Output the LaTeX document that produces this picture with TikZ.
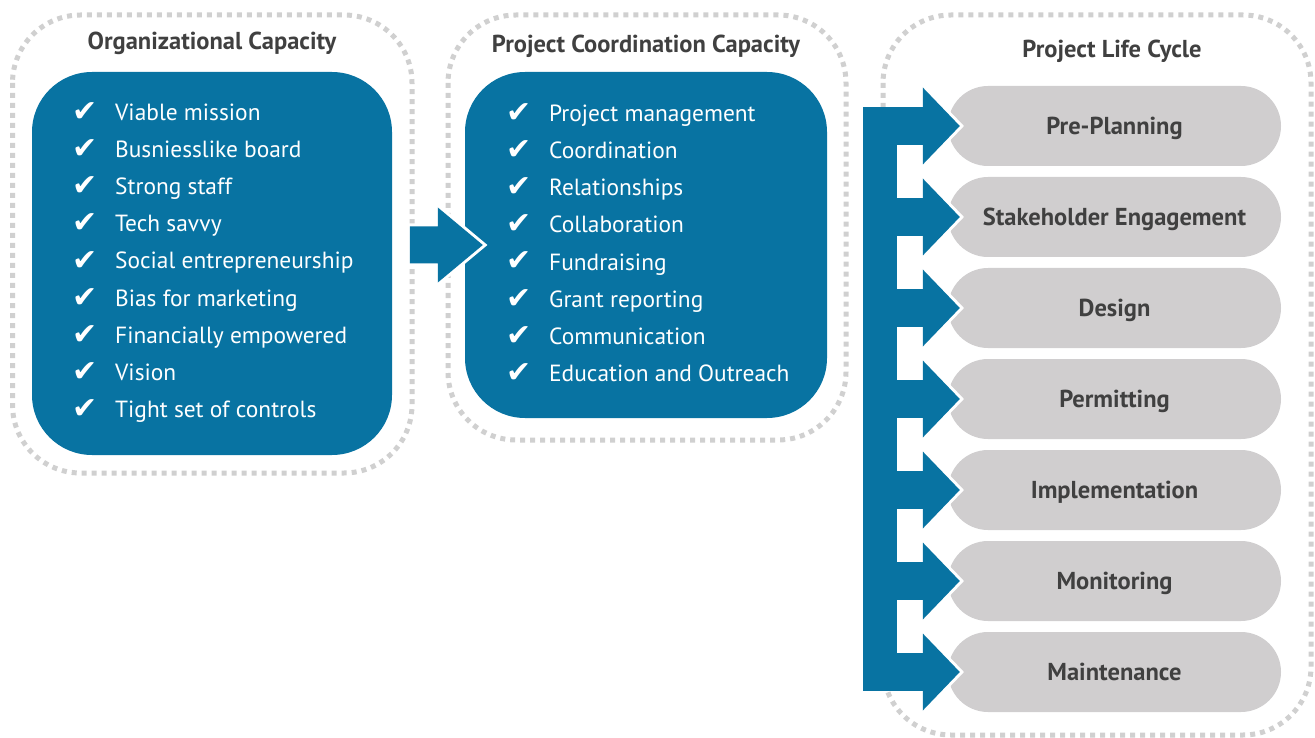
\documentclass[tikz,border=0pt]{standalone}
\usepackage{fontspec}
\setmainfont{PT Sans}
\newfontfamily\symfont{DejaVu Sans}
\usetikzlibrary{calc}
\definecolor{lcblue}{RGB}{8,115,162}
\definecolor{pillgray}{RGB}{208,206,207}
\definecolor{inkgray}{RGB}{64,64,64}
\definecolor{dotgray}{RGB}{208,208,208}
\tikzset{
  dotbox/.style={draw=dotgray, line width=5pt, dash pattern=on 5pt off 5pt, rounded corners=68pt},
  bluebox/.style={fill=lcblue, rounded corners=60pt, inner sep=0pt},
  pill/.style={fill=pillgray, rounded corners=40pt, minimum width=333pt, minimum height=80pt,
    inner sep=0pt, text height=17pt, text depth=0pt, text=inkgray,
    font=\bfseries\fontsize{24.5}{28}\selectfont},
  heading/.style={anchor=base, text=inkgray, font=\bfseries\fontsize{24.5}{28}\selectfont},
  item/.style={anchor=base west, text=white, inner sep=0pt, font=\fontsize{23.4}{28}\selectfont},
  tick/.style={anchor=base west, text=white, inner sep=0pt, font=\symfont\fontsize{30}{34}\selectfont},
  blockarrow/.style={fill=lcblue},
  halo/.style={draw=white, line width=6pt, line join=miter}
}
\begin{document}
\begin{tikzpicture}[x=1pt,y=-1pt]
\useasboundingbox (0,0) rectangle (1315,738);

% dotted frames
\draw[dotbox] (12.5,15) rectangle (412,473);
\draw[dotbox] (448,15) rectangle (846,440);
\draw[dotbox] (883,15) rectangle (1311,735);

% headings
\node[heading] (t1) at (212,50) {Organizational Capacity};
\node[heading] (t2) at (646,53) {Project Coordination Capacity};
\node[heading] (t3) at (1112,58) {Project Life Cycle};

% capacity panels
\node[bluebox, minimum width=360pt, minimum height=383pt] (org) at (212,263.5) {};
\node[bluebox, minimum width=362pt, minimum height=346pt] (coord) at (646,245) {};

% life-cycle stages
\foreach \lbl [count=\i] in {Pre-Planning,Stakeholder Engagement,Design,Permitting,Implementation,Monitoring,Maintenance}
  \node[pill] (p\i) at (1114.5,{126+91*(\i-1)}) {\lbl};

% arrow from organizational to coordination capacity
\coordinate (ta) at ($(coord.west)+(18,0)$);
\draw[halo] (ta) -- ++(-45,-37.5) -- ++(0,19) -- ++(-28,0) -- ++(0,37) -- ++(28,0) -- ++(0,19) -- cycle;
\fill[blockarrow] (ta) -- ++(-45,-37.5) -- ++(0,19) -- ++(-28,0) -- ++(0,37) -- ++(28,0) -- ++(0,19) -- cycle;

% comb of arrows feeding the stages
\foreach \i in {1,...,7} {
  \coordinate (tip\i) at ($(p\i.west)+(12,0)$);
  \draw[halo] (tip\i) -- ++(-37,-38.5) -- ++(0,77) -- cycle;
}
\fill[blockarrow] ($(p1.west)+(-85,-19)$) rectangle ($(p7.west)+(-51,19)$);
\foreach \i in {1,...,7} {
  \fill[blockarrow] (tip\i) -- ++(-37,-38.5) -- ++(0,77) -- cycle;
  \fill[blockarrow] ($(tip\i)+(-64,-19)$) rectangle ($(tip\i)+(-36,19)$);
}

% organizational capacity checklist
\foreach \txt [count=\i] in {Viable mission,Busniesslike board,Strong staff,Tech savvy,Social entrepreneurship,Bias for marketing,Financially empowered,Vision,Tight set of controls} {
  \node[tick] (oc\i) at (72,{122+37*(\i-1)}) {✔};
  \node[item] (o\i) at (115,{121+37*(\i-1)}) {\txt};
}

% project coordination checklist
\foreach \txt [count=\i] in {Project management,Coordination,Relationships,Collaboration,Fundraising,Grant reporting,Communication,Education and Outreach} {
  \node[tick] (cc\i) at (506,{123+37*(\i-1)}) {✔};
  \node[item] (c\i) at (549,{122+37*(\i-1)}) {\txt};
}
\end{tikzpicture}
\end{document}
